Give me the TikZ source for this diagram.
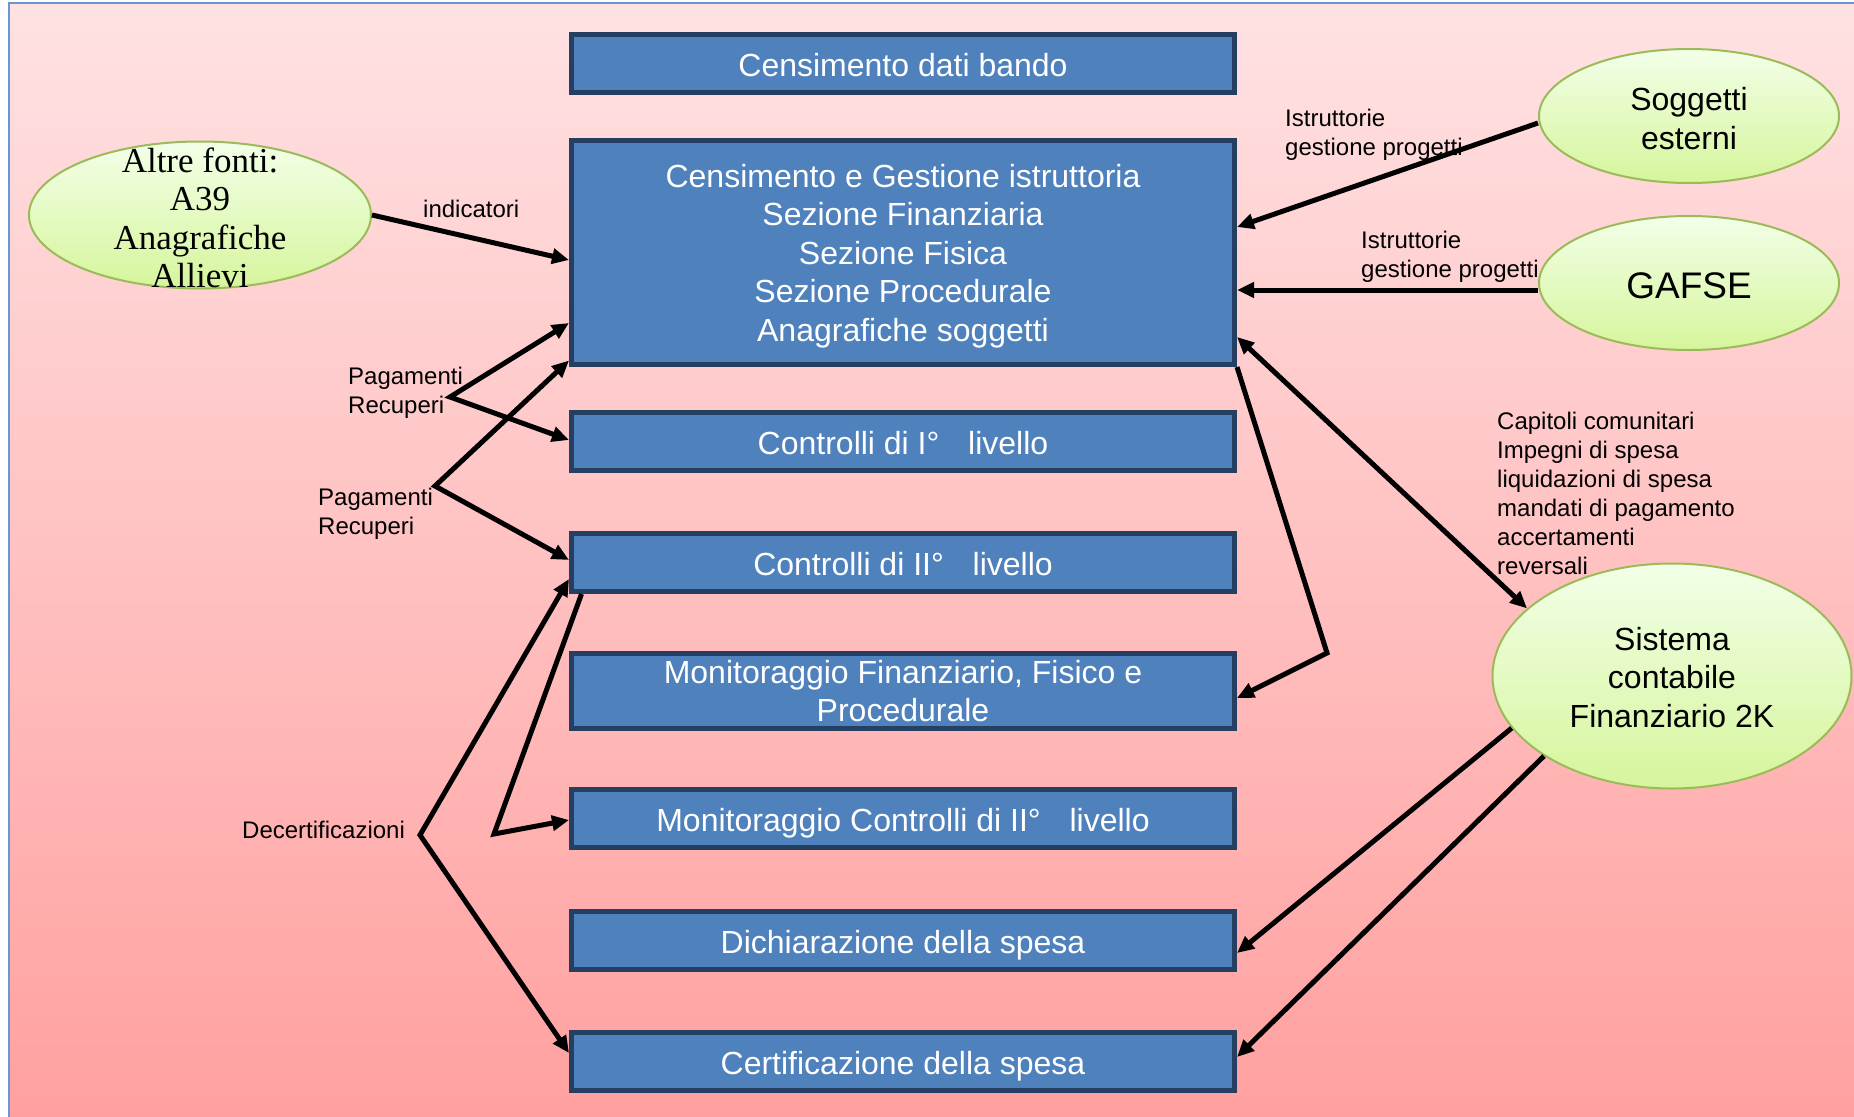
\documentclass[tikz,border=0pt]{standalone}
\usepackage{fontspec}
\setmainfont{Liberation Sans}
\newfontfamily\timesf{Liberation Serif}
\usetikzlibrary{arrows.meta,shapes.geometric,calc}
\definecolor{boxfill}{HTML}{4F81BD}
\definecolor{boxline}{HTML}{253F62}
\definecolor{ellline}{HTML}{9BBB59}
\definecolor{elltop}{HTML}{F2FFE8}
\definecolor{ellbot}{HTML}{D6F59C}
\definecolor{bgtop}{HTML}{FFE2E3}
\definecolor{bgbot}{HTML}{FFA09F}
\definecolor{frameline}{HTML}{6A97D0}
\begin{document}
\begin{tikzpicture}[x=1pt,y=-1pt,
  procbox/.style={rectangle,draw=boxline,line width=5pt,fill=boxfill,text=white,
    minimum width=663pt,inner sep=0pt,font=\fontsize{32}{38.5}\selectfont,align=center,text depth=0pt},
  onebox/.style={procbox,minimum height=58pt,text height=25.5pt},
  extell/.style={ellipse,draw=ellline,line width=2pt,top color=elltop,bottom color=ellbot,
    inner sep=0pt},
  elltext/.style={align=center,inner sep=0pt,font=\fontsize{32}{38.5}\selectfont},
  lbl/.style={anchor=west,inner sep=0pt,align=left,font=\fontsize{24}{28.7}\selectfont,text depth=0pt},
  conn/.style={line width=5pt,line join=miter,-{Triangle[length=17pt,width=15pt]}},
  biconn/.style={line width=5pt,line join=miter,{Triangle[length=17pt,width=15pt]}-{Triangle[length=17pt,width=15pt]}}
]
\useasboundingbox (0,0) rectangle (1854,1116);
\fill[white] (0,0) rectangle (1854,1116);
\shade[top color=bgtop,bottom color=bgbot] (9,3) rectangle (1860,1120);
\draw[frameline,line width=2pt] (9,1120) -- (9,3) -- (1860,3);

% labels
\node[lbl] (indic) at (423,209) {indicatori};
\node[lbl] (ist1) at (1285,132.5) {Istruttorie\\gestione progetti};
\node[lbl] (ist2) at (1361,254) {Istruttorie\\gestione progetti};
\node[lbl] (pag1) at (348,390) {Pagamenti\\Recuperi};
\node[lbl] (pag2) at (318,511.5) {Pagamenti\\Recuperi};
\node[lbl] (decert) at (242,830) {Decertificazioni};
\node[lbl,font=\fontsize{24}{29}\selectfont] (capit) at (1497,493) {Capitoli comunitari\\Impegni di spesa\\liquidazioni di spesa\\mandati di pagamento\\accertamenti\\reversali};

% boxes
\node[onebox] (b1) at (903,63.5) {Censimento dati bando};
\node[procbox,minimum height=224pt] (b2) at (903,252.5) {Censimento e Gestione istruttoria\\Sezione Finanziaria\\Sezione Fisica\\Sezione Procedurale\\Anagrafiche soggetti};
\node[onebox] (b3) at (903,441.5) {Controlli di I°\hspace{0.9em}livello};
\node[onebox] (b4) at (903,562.5) {Controlli di II°\hspace{0.9em}livello};
\node[procbox,minimum height=75pt] (b5) at (903,691) {Monitoraggio Finanziario, Fisico e\\Procedurale};
\node[onebox] (b6) at (903,818.5) {Monitoraggio Controlli di II°\hspace{0.9em}livello};
\node[onebox] (b7) at (903,940.5) {Dichiarazione della spesa};
\node[onebox] (b8) at (903,1061.5) {Certificazione della spesa};

% ellipses
\node[extell,minimum width=342pt,minimum height=147pt,
  label={[elltext,yshift=-3pt,font=\timesf\fontsize{35}{38.4}\selectfont]center:Altre fonti:\\A39\\Anagrafiche\\Allievi}] (altre) at (200,215) {};
\node[extell,minimum width=300pt,minimum height=134pt,
  label={[elltext,yshift=-2.5pt]center:Soggetti\\esterni}] (sogg) at (1689,116) {};
\node[extell,minimum width=300pt,minimum height=134pt,
  label={[elltext,yshift=-2.5pt,font=\fontsize{37}{40}\selectfont]center:GAFSE}] (gafse) at (1689,283) {};
\node[extell,minimum width=359pt,minimum height=225pt,
  label={[elltext,yshift=-1.5pt]center:Sistema\\contabile\\Finanziario 2K}] (sist) at (1672,676) {};

% branch points
\coordinate (p1) at (450,397);
\coordinate (p2) at (435,486);
\coordinate (p3) at (420,835);
\coordinate (p4) at (494,834);
\coordinate (p5) at (1327,653);

% connectors
\draw[conn] (altre.east) -- ([yshift=-7.5pt]b2.west);
\draw[conn] ([yshift=-7pt]sogg.west) -- ([yshift=25.5pt]b2.east);
\draw[conn] ([yshift=-7pt]gafse.west) -- ([yshift=-37.5pt]b2.east);
\draw[biconn] ([yshift=-70.5pt]b2.west) -- (p1) -- ([yshift=1.5pt]b3.west);
\draw[biconn] ([yshift=-108pt]b2.west) -- (p2) -- ([yshift=2.5pt]b4.west);
\draw[biconn] ([yshift=-16.5pt]b4.west) -- (p3) -- ([yshift=8.5pt]b8.west);
\draw[conn] ([xshift=12.5pt]b4.south west) -- (p4) -- ([yshift=-1.5pt]b6.west);
\draw[conn] (b2.south east) -- (p5) -- ([yshift=-7pt]b5.east);
\draw[biconn] ([yshift=-84.5pt]b2.east) -- (sist.155);
\draw[conn] (sist.198) -- ([yshift=-12.5pt]b7.east);
\draw[conn] (sist.212) -- ([yshift=4.5pt]b8.east);
\end{tikzpicture}
\end{document}
